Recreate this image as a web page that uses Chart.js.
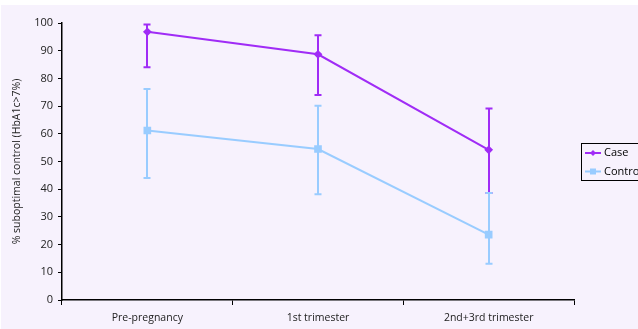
<!DOCTYPE html>
<html>
<head>
<meta charset="utf-8">
<script src="https://cdn.jsdelivr.net/npm/chart.js@4.4.1/dist/chart.umd.min.js"></script>
<style>
  html, body { margin: 0; padding: 0; background: #ffffff; }
  #wrap { width: 638px; height: 329px; position: relative; }
</style>
</head>
<body>
<div id="wrap"><canvas id="c" width="638" height="329"></canvas></div>
<script>
// Stages of pregnancy on the x axis
const categories = ['Pre-pregnancy', '1st trimester', '2nd+3rd trimester'];

// Percentage with HbA1c > 7%, with lower / upper confidence limits
const caseValues = [96.8, 88.7, 54.2];
const caseLower  = [84.0, 74.0, 38.6];
const caseUpper  = [99.5, 95.6, 69.1];

const controlValues = [61.2, 54.5, 23.6];
const controlLower  = [44.0, 38.2, 13.1];
const controlUpper  = [76.2, 70.1, 38.6];

const yTicks = [0, 10, 20, 30, 40, 50, 60, 70, 80, 90, 100];

const CASE_COLOR = '#a02cf6';
const CONTROL_COLOR = '#99ccff';
const FONT = '"Open Sans", "Liberation Sans", sans-serif';

// Lavender plot backdrop
const backdrop = {
  id: 'backdrop',
  beforeDraw(chart) {
    const ctx = chart.ctx;
    ctx.save();
    ctx.fillStyle = '#ffffff';
    ctx.fillRect(0, 0, chart.width, chart.height);
    ctx.fillStyle = '#f7f2fd';
    ctx.fillRect(1, 5, chart.width - 1, chart.height - 5);
    ctx.restore();
  }
};

// Vertical error bars with end caps
const errorBars = {
  id: 'errorBars',
  beforeDatasetsDraw(chart) {
    const ctx = chart.ctx;
    const xs = chart.scales.x, ys = chart.scales.y;
    chart.data.datasets.forEach((ds) => {
      ctx.save();
      ctx.strokeStyle = ds.borderColor;
      ctx.lineWidth = 2;
      ds.data.forEach((v, i) => {
        const x = Math.round(xs.getPixelForValue(i));
        const yl = ys.getPixelForValue(ds.lower[i]);
        const yu = ys.getPixelForValue(ds.upper[i]);
        ctx.beginPath();
        ctx.moveTo(x, yl); ctx.lineTo(x, yu);
        ctx.stroke();
        ctx.beginPath();
        ctx.moveTo(x - 3.5, yl); ctx.lineTo(x + 3.5, yl);
        ctx.moveTo(x - 3.5, yu); ctx.lineTo(x + 3.5, yu);
        ctx.stroke();
      });
      ctx.restore();
    });
  }
};

// Boxed legend at the right edge
const sideLegend = {
  id: 'sideLegend',
  afterDraw(chart) {
    const ctx = chart.ctx;
    ctx.save();
    const bx = 581.5, by = 143.5, bw = 70, bh = 37;
    ctx.fillStyle = '#f7f2fd';
    ctx.fillRect(bx, by, bw, bh);
    ctx.strokeStyle = '#000000';
    ctx.lineWidth = 1;
    ctx.strokeRect(bx, by, bw, bh);
    chart.data.datasets.forEach((ds, i) => {
      const y = 153 + i * 18.5;
      ctx.strokeStyle = ds.borderColor;
      ctx.lineWidth = 2;
      ctx.beginPath();
      ctx.moveTo(585, y); ctx.lineTo(601, y);
      ctx.stroke();
      ctx.fillStyle = ds.borderColor;
      if (ds.pointStyle === 'rectRot') {
        ctx.beginPath();
        ctx.moveTo(593, y - 3); ctx.lineTo(596, y); ctx.lineTo(593, y + 3); ctx.lineTo(590, y);
        ctx.closePath(); ctx.fill();
      } else {
        ctx.fillRect(590, y - 3, 6, 6);
      }
      ctx.fillStyle = '#000000';
      ctx.font = '11px ' + FONT;
      ctx.textBaseline = 'middle';
      ctx.textAlign = 'left';
      ctx.fillText(ds.label, 604, y);
    });
    ctx.restore();
  }
};

new Chart(document.getElementById('c'), {
  type: 'line',
  data: {
    labels: categories,
    datasets: [
      {
        label: 'Case',
        data: caseValues,
        lower: caseLower,
        upper: caseUpper,
        borderColor: CASE_COLOR,
        backgroundColor: CASE_COLOR,
        borderWidth: 2,
        pointStyle: 'rectRot',
        pointRadius: 3,
        pointHoverRadius: 3,
        tension: 0
      },
      {
        label: 'Control',
        data: controlValues,
        lower: controlLower,
        upper: controlUpper,
        borderColor: CONTROL_COLOR,
        backgroundColor: CONTROL_COLOR,
        borderWidth: 2,
        pointStyle: 'rect',
        pointRadius: 4,
        pointHoverRadius: 4,
        tension: 0
      }
    ]
  },
  options: {
    responsive: false,
    animation: false,
    devicePixelRatio: 1,
    layout: { padding: { left: 11, right: 64, top: 23, bottom: 0 } },
    plugins: {
      legend: { display: false },
      tooltip: { enabled: false }
    },
    scales: {
      x: {
        offset: true,
        grid: { offset: true, drawOnChartArea: false, tickLength: 5, tickColor: '#000000', lineWidth: 1 },
        border: { color: '#000000', width: 1.5 },
        ticks: { color: '#222222', font: { family: FONT, size: 10.5 }, padding: 7, maxRotation: 0 },
        afterFit(scale) { scale.height = 29; }
      },
      y: {
        min: 0,
        max: 100,
        afterBuildTicks(scale) { scale.ticks = yTicks.map(v => ({ value: v })); },
        grid: { drawOnChartArea: false, tickLength: 4, tickColor: '#000000' },
        border: { color: '#000000', width: 1.5 },
        ticks: { color: '#222222', font: { family: FONT, size: 11 }, padding: 5 },
        title: {
          display: true,
          text: '% suboptimal control (HbA1c>7%)',
          color: '#222222',
          font: { family: FONT, size: 10.5 },
          padding: { top: 0, bottom: 4 }
        },
        afterFit(scale) { scale.width = 51; }
      }
    }
  },
  plugins: [backdrop, errorBars, sideLegend]
});
</script>
</body>
</html>
